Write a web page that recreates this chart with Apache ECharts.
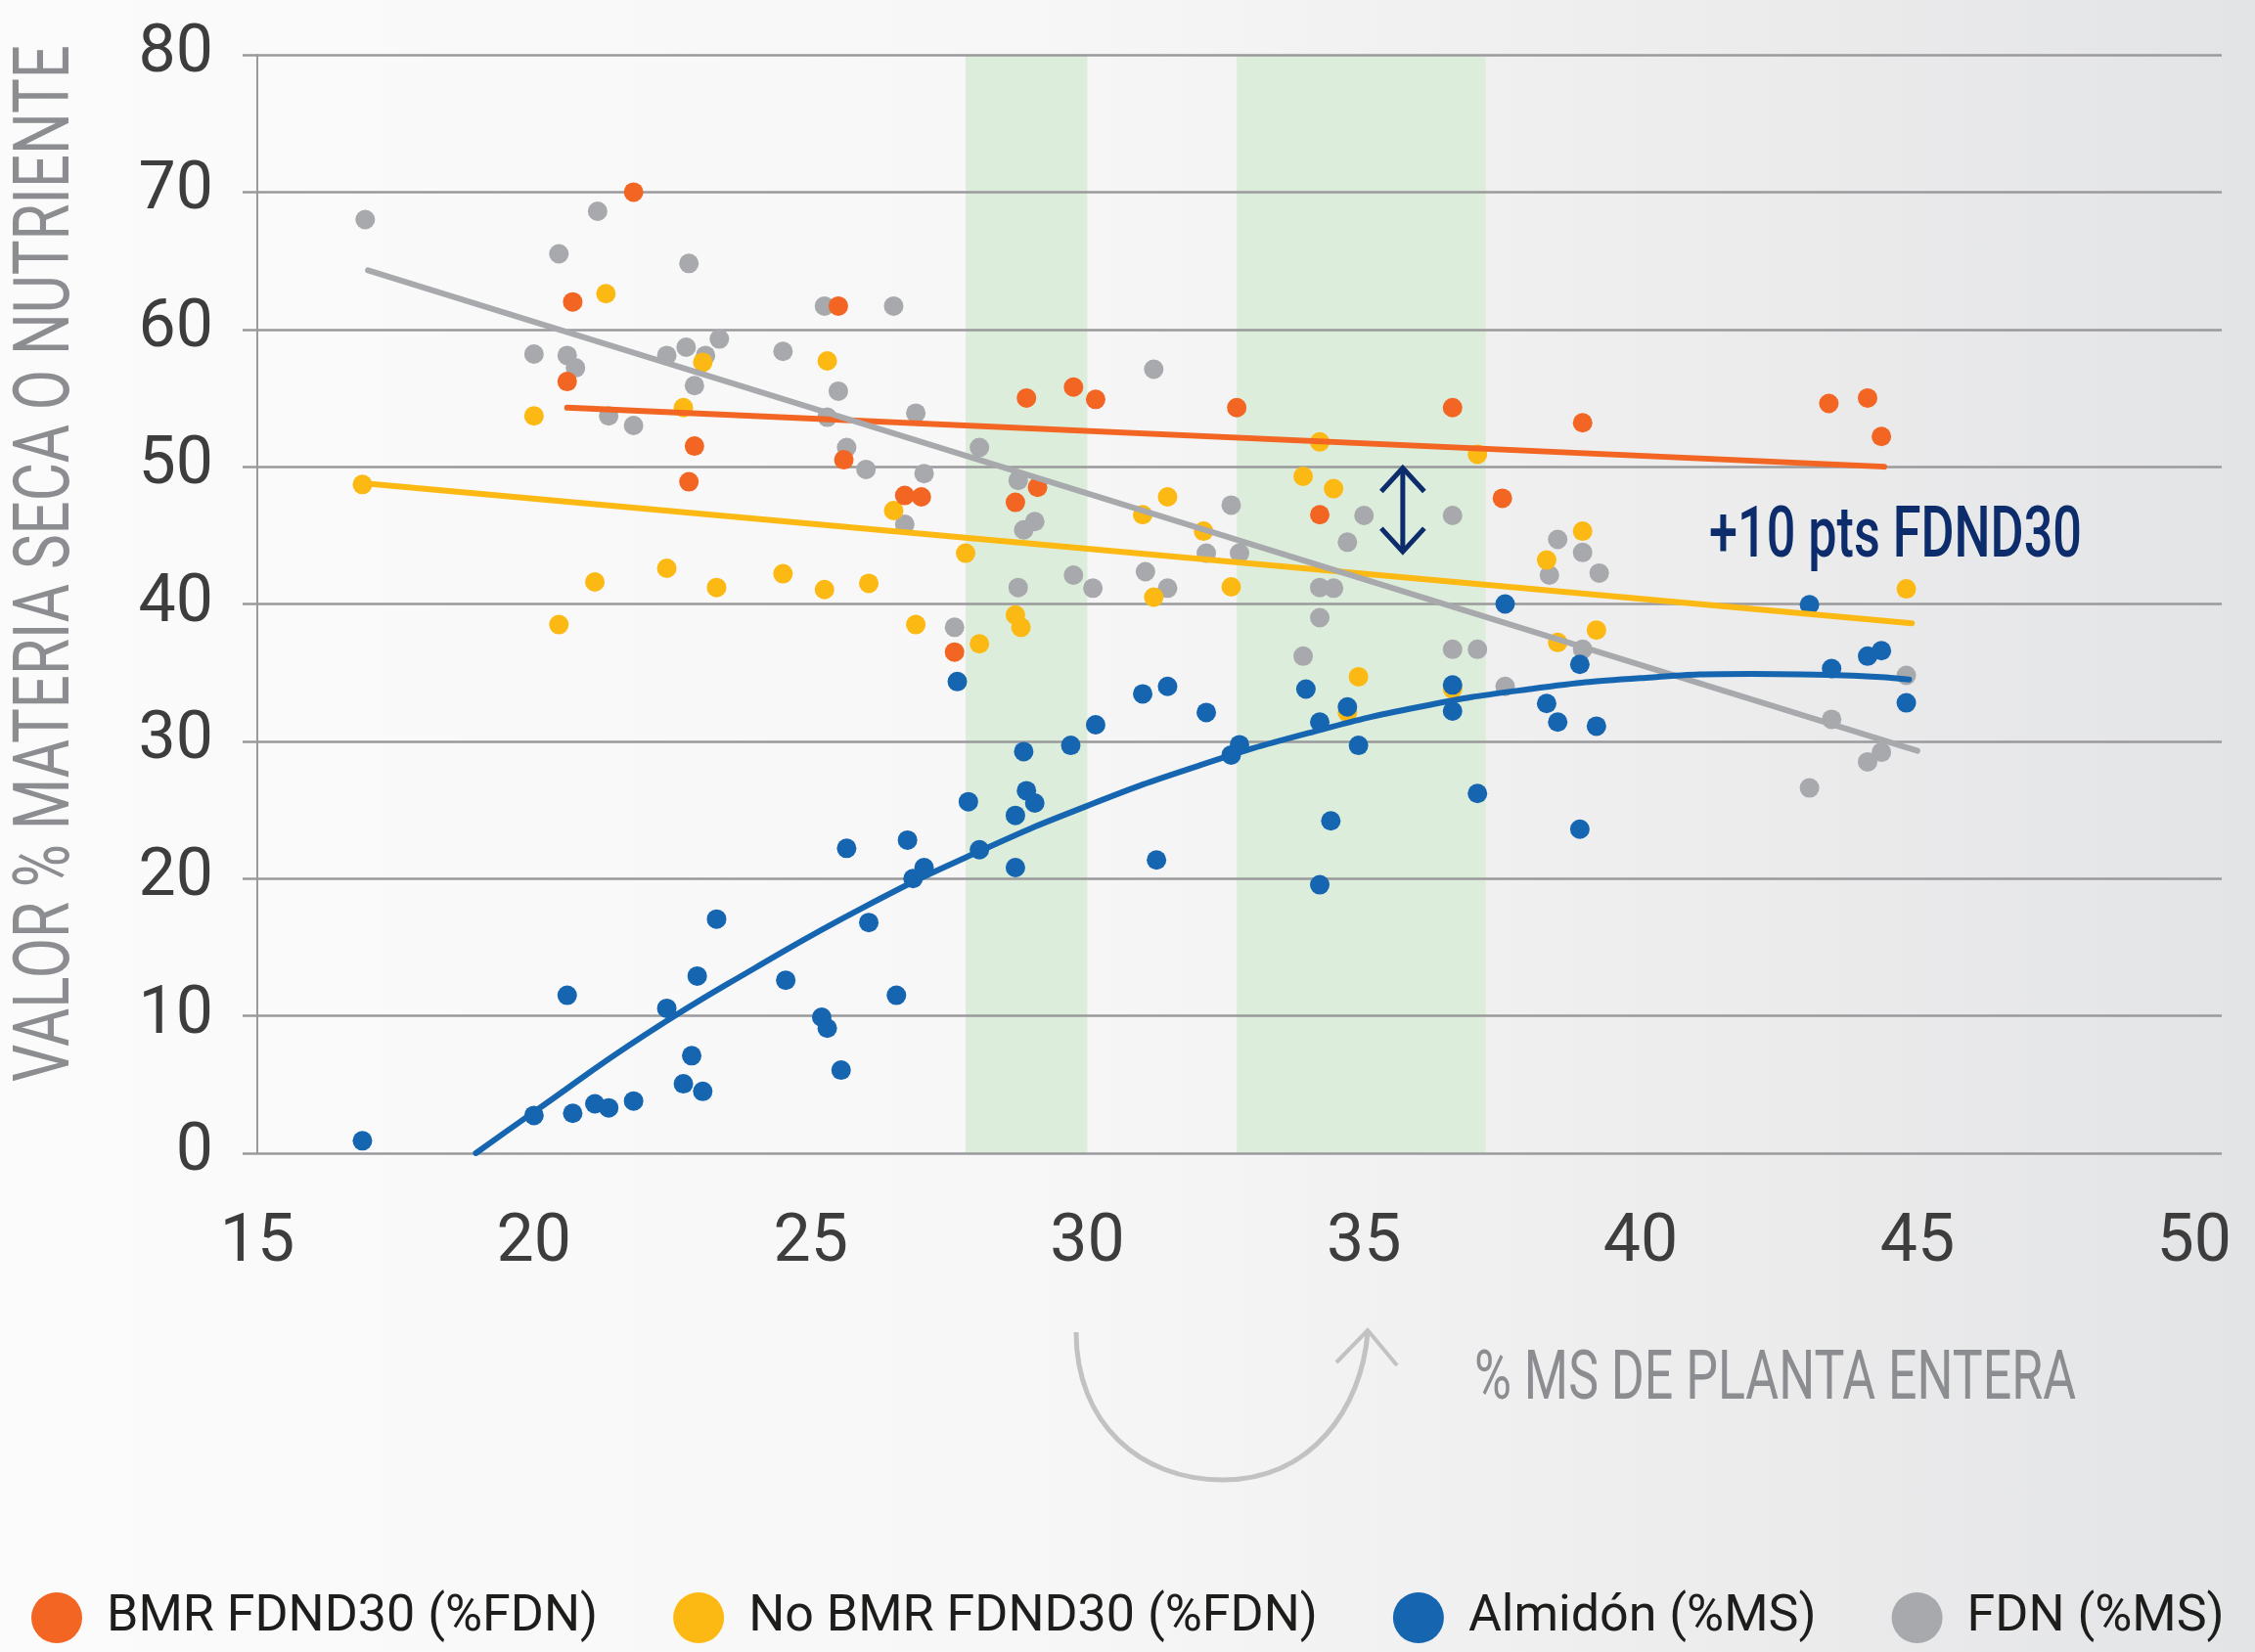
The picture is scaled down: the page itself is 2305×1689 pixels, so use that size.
<!DOCTYPE html>
<html>
<head>
<meta charset="utf-8">
<script src="https://cdn.jsdelivr.net/npm/echarts@6/dist/echarts.min.js"></script>
<style>
  html, body { margin: 0; padding: 0; }
  #chart {
    width: 2305px; height: 1689px;
    background: linear-gradient(to right, #fbfbfb 0%, #f7f7f7 45%, #ebebec 80%, #e3e4e6 100%);
  }
</style>
</head>
<body>
<div id="chart"></div>
<script>
// Fibra / almidón vs % MS de planta entera

const FONT = 'Roboto, "DejaVu Sans Condensed", "Liberation Sans", sans-serif';

// ejes
const X_TICKS = [15, 20, 25, 30, 35, 40, 45, 50];
const Y_TICKS = [0, 10, 20, 30, 40, 50, 60, 70, 80];

// nombres de las series (leyenda)
const SERIES_NAMES = ['BMR FDND30 (%FDN)', 'No BMR FDND30 (%FDN)', 'Almidón (%MS)', 'FDN (%MS)'];
const COLORS = ['#f26522', '#fdb913', '#1565b0', '#a7a9ac'];

// puntos [%MS, valor]
const bmrPts = [
  [21.8, 70.0], [20.7, 62.0], [20.6, 56.2], [25.5, 61.7], [25.6, 50.5], [22.9, 51.5], [22.8, 48.9],
  [26.7, 47.9], [27.0, 47.8], [27.6, 36.5], [28.9, 55.0], [28.7, 47.4], [29.1, 48.5], [29.75, 55.8],
  [30.15, 54.9], [32.7, 54.3], [36.6, 54.3], [34.2, 46.5], [37.5, 47.7], [38.95, 53.2], [43.4, 54.6],
  [44.1, 55.0], [44.35, 52.2]
];
const noBmrPts = [
  [16.9, 48.7], [20.0, 53.7], [20.45, 38.5], [21.1, 41.6], [21.3, 62.6], [22.7, 54.3], [23.05, 57.6],
  [22.4, 42.6], [23.3, 41.2], [24.5, 42.2], [25.25, 41.05], [25.3, 57.7], [26.05, 41.5], [26.5, 46.8],
  [26.9, 38.5], [27.8, 43.7], [28.05, 37.1], [28.7, 39.2], [28.8, 38.3], [31.0, 46.5], [31.2, 40.5],
  [31.45, 47.8], [32.1, 45.3], [32.6, 41.25], [33.9, 49.3], [34.2, 51.8], [34.45, 48.4], [34.7, 32.1],
  [34.9, 34.7], [36.6, 33.8], [37.05, 50.9], [38.3, 43.2], [38.5, 37.2], [38.95, 45.3], [39.2, 38.1],
  [44.8, 41.1]
];
const almidonPts = [
  [16.9, 0.9], [20.0, 2.75], [20.6, 11.5], [20.7, 2.9], [21.1, 3.6], [21.35, 3.3], [21.8, 3.8],
  [22.4, 10.55], [22.7, 5.05], [22.85, 7.1], [22.95, 12.9], [23.05, 4.5], [23.3, 17.05], [24.55, 12.6],
  [25.2, 9.9], [25.3, 9.1], [25.55, 6.05], [25.65, 22.2], [26.05, 16.8], [26.55, 11.5], [26.75, 22.8],
  [26.85, 20.0], [27.05, 20.8], [27.65, 34.35], [27.85, 25.6], [28.05, 22.1], [28.7, 24.6], [28.7, 20.8],
  [28.85, 29.25], [28.9, 26.4], [29.05, 25.5], [29.7, 29.7], [30.15, 31.2], [31.0, 33.45], [31.25, 21.35],
  [31.45, 34.0], [32.15, 32.1], [32.6, 29.0], [32.75, 29.75], [33.95, 33.8], [34.2, 31.4], [34.2, 19.55],
  [34.4, 24.2], [34.7, 32.5], [34.9, 29.7], [36.6, 34.1], [36.6, 32.2], [37.05, 26.2], [37.55, 40.0],
  [38.3, 32.75], [38.5, 31.4], [38.9, 35.6], [38.9, 23.6], [39.2, 31.1], [43.05, 39.95], [43.45, 35.3],
  [44.1, 36.2], [44.35, 36.6], [44.8, 32.8]
];
const fdnPts = [
  [16.95, 68.0], [20.0, 58.2], [20.45, 65.5], [20.6, 58.1], [20.75, 57.2], [21.15, 68.6], [21.35, 53.7],
  [21.8, 53.0], [22.4, 58.1], [22.75, 58.7], [22.8, 64.8], [22.9, 55.9], [23.1, 58.1], [23.35, 59.3],
  [24.5, 58.4], [25.25, 61.7], [25.3, 53.6], [25.5, 55.5], [25.65, 51.4], [26.0, 49.8], [26.5, 61.7],
  [26.7, 45.8], [26.9, 53.9], [27.05, 49.5], [27.6, 38.3], [28.05, 51.4], [28.75, 49.0], [28.75, 41.2],
  [28.85, 45.4], [29.05, 46.0], [29.75, 42.1], [30.1, 41.15], [31.05, 42.35], [31.2, 57.1], [31.45, 41.15],
  [32.15, 43.7], [32.6, 47.2], [32.75, 43.7], [33.9, 36.2], [34.2, 41.2], [34.2, 39.0], [34.45, 41.15],
  [34.7, 44.5], [35.0, 46.45], [36.6, 46.45], [36.6, 36.7], [37.05, 36.7], [37.55, 34.0], [38.35, 42.1],
  [38.5, 44.7], [38.95, 43.75], [38.95, 36.7], [39.25, 42.25], [43.05, 26.6], [43.45, 31.6], [44.1, 28.5],
  [44.35, 29.2], [44.8, 34.8]
];

// líneas de tendencia
const bmrTrend = [[20.6, 54.3], [44.4, 50.0]];
const noBmrTrend = [[16.9, 48.8], [44.9, 38.6]];
const fdnTrend = [[17.0, 64.3], [45.0, 29.3]];
const almidonCurve = [
  [18.95, 0], [20, 3.0], [22, 8.6], [24, 13.5], [26, 18.0], [28, 21.9], [30, 25.3], [32, 28.2],
  [34, 30.6], [36, 32.5], [38, 33.8], [40, 34.6], [42, 34.9], [44, 34.75], [44.85, 34.5]
];

// franjas verdes (rango óptimo de cosecha)
const bands = [[27.8, 30.0], [32.7, 37.2]];

// flecha doble: [x, y arriba, y abajo]
const gapArrow = [[35.7, 49.9, 43.8]];

const NAVY = '#0c2c6c';
const GRID = '#9a9a9c';
const AXIS_NAME = '#8c8d90';

// el original usa una tipografía condensada: se comprime el texto en horizontal
const measureCtx = document.createElement('canvas').getContext('2d');
function fitScale(text, size, weight, width) {
  measureCtx.font = (weight || 'normal') + ' ' + size + 'px ' + FONT;
  return width / measureCtx.measureText(text).width;
}

function condensedText(text, x, y, size, width, opts) {
  opts = opts || {};
  return {
    type: 'text', x, y, silent: true,
    rotation: opts.rotation || 0,
    scaleX: fitScale(text, size, opts.weight, width),
    style: {
      text, fontSize: size, fontFamily: FONT, fontWeight: opts.weight || 'normal', fill: opts.color,
      align: opts.align || 'left', verticalAlign: 'middle',
      textAlign: opts.align || 'left', textVerticalAlign: 'middle'
    }
  };
}

const chart = echarts.init(document.getElementById('chart'));

function scatter(name, data, color, z) {
  return {
    name, type: 'scatter', data, symbolSize: 20, z,
    itemStyle: { color, opacity: 1 },
    silent: true
  };
}

function trend(name, data, color, z, smooth) {
  return {
    name, type: 'line', data, smooth: !!smooth, showSymbol: false, z,
    lineStyle: { color, width: 6, cap: 'round' },
    silent: true
  };
}

chart.setOption({
  animation: false,
  textStyle: { fontFamily: FONT },
  grid: { left: 263, right: 34, top: 56, bottom: 510 },
  xAxis: {
    type: 'value', min: 15, max: 50.5, interval: 5,
    axisLine: { show: false }, axisTick: { show: false }, splitLine: { show: false },
    axisLabel: {
      fontSize: 68, color: '#3d3d3d', fontFamily: FONT, margin: 59,
      formatter: v => (X_TICKS.indexOf(v) >= 0 ? String(v) : '')
    }
  },
  yAxis: {
    type: 'value', min: 0, max: 80, interval: 10,
    axisLine: { show: true, lineStyle: { color: GRID, width: 2 } },
    axisTick: { show: true, length: 15, lineStyle: { color: GRID, width: 2.5 } },
    splitLine: { lineStyle: { color: GRID, width: 2.5 } },
    axisLabel: {
      fontSize: 68, color: '#3d3d3d', fontFamily: FONT, margin: 45,
      formatter: v => (Y_TICKS.indexOf(v) >= 0 ? String(v) : '')
    }
  },
  legend: {
    data: SERIES_NAMES,
    left: 32, top: 1628, padding: 0,
    icon: 'circle', itemWidth: 52, itemHeight: 52, itemGap: 77,
    selectedMode: false,
    textStyle: { fontSize: 52, color: '#1d1d1b', fontFamily: FONT, padding: [0, 0, 0, 20] }
  },
  series: [
    {
      name: 'bands', type: 'scatter', data: [], silent: true,
      markArea: {
        z: -1, silent: true,
        itemStyle: { color: '#ddeddb' },
        data: bands.map(b => [{ xAxis: b[0] }, { xAxis: b[1] }])
      }
    },
    scatter(SERIES_NAMES[3], fdnPts, COLORS[3], 2),
    scatter(SERIES_NAMES[1], noBmrPts, COLORS[1], 3),
    scatter(SERIES_NAMES[0], bmrPts, COLORS[0], 4),
    scatter(SERIES_NAMES[2], almidonPts, COLORS[2], 5),
    trend('bmrTrend', bmrTrend, COLORS[0], 6),
    trend('noBmrTrend', noBmrTrend, COLORS[1], 6),
    trend('fdnTrend', fdnTrend, COLORS[3], 7),
    trend('almidonCurve', almidonCurve, COLORS[2], 8, true),
    {
      name: 'gap', type: 'custom', data: gapArrow, z: 9, silent: true,
      encode: { x: 0, y: [1, 2] },
      renderItem(params, api) {
        const top = api.coord([api.value(0), api.value(1)]);
        const bot = api.coord([api.value(0), api.value(2)]);
        const w = 22, h = 24;
        const st = { stroke: NAVY, lineWidth: 5, fill: null, lineJoin: 'miter' };
        return {
          type: 'group',
          children: [
            { type: 'line', shape: { x1: top[0], y1: top[1] + 2, x2: bot[0], y2: bot[1] - 2 }, style: st },
            { type: 'polyline', shape: { points: [[top[0] - w, top[1] + h], [top[0], top[1]], [top[0] + w, top[1] + h]] }, style: st },
            { type: 'polyline', shape: { points: [[bot[0] - w, bot[1] - h], [bot[0], bot[1]], [bot[0] + w, bot[1] - h]] }, style: st }
          ]
        };
      }
    }
  ],
  graphic: [
    condensedText('VALOR % MATERIA SECA O NUTRIENTE', 50, 576, 80, 1060,
      { rotation: Math.PI / 2, align: 'center', color: AXIS_NAME }),
    condensedText('% MS DE PLANTA ENTERA', 1507, 1412, 70, 615, { color: AXIS_NAME }),
    condensedText('+10 pts FDND30', 1747, 551, 72, 381, { color: NAVY, weight: 500 }),
    // flecha curva bajo el eje
    {
      type: 'group', silent: true,
      children: [
        { type: 'bezierCurve', shape: { x1: 1100, y1: 1362, cpx1: 1100, cpy1: 1455, cpx2: 1165, cpy2: 1513, x2: 1250, y2: 1513 },
          style: { stroke: '#c2c2c2', lineWidth: 5, fill: null } },
        { type: 'bezierCurve', shape: { x1: 1250, y1: 1513, cpx1: 1340, cpy1: 1513, cpx2: 1392, cpy2: 1440, x2: 1398, y2: 1362 },
          style: { stroke: '#c2c2c2', lineWidth: 5, fill: null } },
        { type: 'polyline', shape: { points: [[1366, 1393], [1398, 1360], [1428, 1396]] },
          style: { stroke: '#c2c2c2', lineWidth: 4, fill: null } }
      ]
    }
  ]
});
</script>
</body>
</html>
